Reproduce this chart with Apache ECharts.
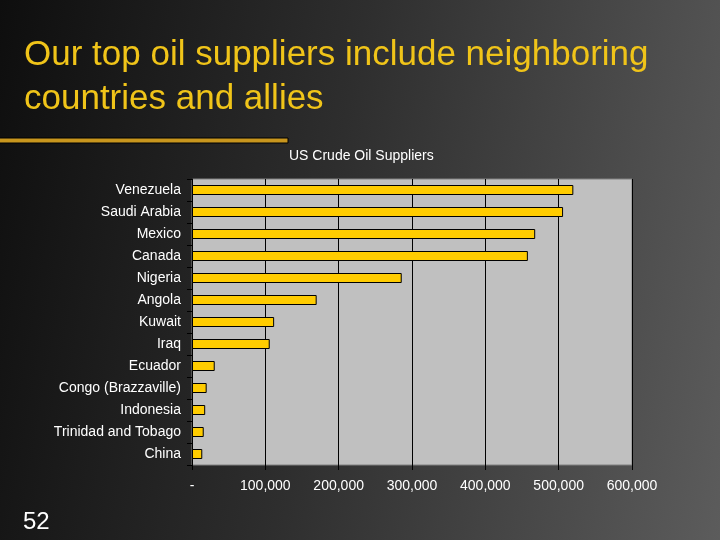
<!DOCTYPE html>
<html><head><meta charset="utf-8">
<script src="https://cdn.jsdelivr.net/npm/echarts@6/dist/echarts.min.js"></script>
<style>
html,body{margin:0;padding:0;}
#main{width:720px;height:540px;background:linear-gradient(100deg,#0e0e0e 0%,#2e2e2e 45%,#5c5c5c 100%);}
</style></head><body>
<div id="main"></div>
<script>
var countries = ['Venezuela','Saudi Arabia','Mexico','Canada','Nigeria','Angola','Kuwait','Iraq','Ecuador','Congo (Brazzaville)','Indonesia','Trinidad and Tobago','China'];
var imports = [520000,506000,468000,458000,286000,170000,112000,106000,31000,20000,18000,16000,14000];
var xTicks = [0,100000,200000,300000,400000,500000,600000];

var chart = echarts.init(document.getElementById('main'));
chart.setOption({
  backgroundColor: 'transparent',
  title: [
    {text: 'Our top oil suppliers include neighboring\ncountries and allies', left: 19, top: 28,
     textStyle: {color: '#f0c419', fontSize: 35, fontWeight: 'normal', fontFamily: 'Liberation Sans', lineHeight: 44}},
    {text: 'US Crude Oil Suppliers', left: 284, top: 144,
     textStyle: {color: '#ffffff', fontSize: 14, fontWeight: 'normal', fontFamily: 'Liberation Sans'}},
    {text: '52', left: 18, top: 505,
     textStyle: {color: '#ffffff', fontSize: 24, fontWeight: 'normal', fontFamily: 'Liberation Sans'}}
  ],
  graphic: [{type: 'rect', shape: {x: -2, y: 138, width: 290, height: 5},
    style: {fill: '#c8961e', stroke: '#000', lineWidth: 1}}],
  grid: {left: 192, right: 88, top: 179, bottom: 75, show: true, backgroundColor: '#c0c0c0', borderColor: '#808080', borderWidth: 1},
  xAxis: {type: 'value', min: 0, max: 600000, interval: 100000,
    axisLine: {show: false}, axisTick: {show: true, length: 5, lineStyle: {color: '#000'}},
    splitLine: {show: true, lineStyle: {color: '#000', width: 1}},
    axisLabel: {color: '#ffffff', fontSize: 14, fontFamily: 'Liberation Sans', margin: 14,
      formatter: function (v) { return v === 0 ? '-' : v.toLocaleString('en-US'); }}},
  yAxis: {type: 'category', inverse: true, data: countries,
    axisLine: {show: true, lineStyle: {color: '#000'}}, axisTick: {show: true, length: 5, lineStyle: {color: '#000'}},
    axisLabel: {color: '#ffffff', fontSize: 14, fontFamily: 'Liberation Sans', margin: 11}},
  series: [{type: 'bar', data: imports, barWidth: 10,
    itemStyle: {color: '#ffcc00', borderColor: '#000', borderWidth: 1}}]
});
</script>
</body></html>
